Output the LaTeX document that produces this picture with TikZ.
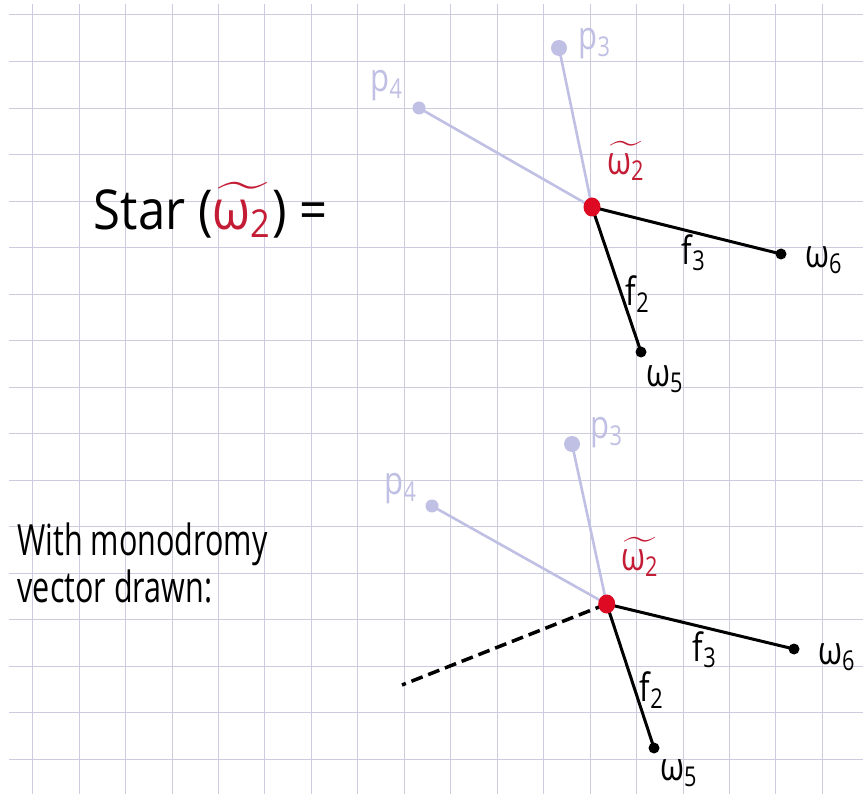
\documentclass[tikz,border=0pt]{standalone}
\usepackage{fontspec}
\setmainfont{Open Sans}
\usetikzlibrary{shapes.geometric}
\definecolor{gridc}{RGB}{204,204,222}
\definecolor{fadec}{RGB}{192,192,228}
\definecolor{labred}{RGB}{196,28,52}
\definecolor{dotred}{RGB}{222,10,36}
\begin{document}
\begin{tikzpicture}[x=1pt,y=-1pt,
  gridline/.style={draw=gridc, line width=1pt},
  fadedline/.style={draw=fadec, line width=2.6pt, line cap=round},
  edgeline/.style={draw=black, line width=3pt, line cap=round},
  dashline/.style={draw=black, line width=3.5pt, dash pattern=on 12pt off 6pt},
  bdot/.style={circle, fill=black, inner sep=0pt, minimum size=11pt},
  fdot/.style={circle, fill=fadec, inner sep=0pt, minimum size=16pt},
  fdotsmall/.style={circle, fill=fadec, inner sep=0pt, minimum size=13pt},
  rdot/.style={ellipse, fill=dotred, inner sep=0pt, minimum width=17pt, minimum height=19pt},
  lbl/.style={inner sep=0pt, xscale=3.1, yscale=3.9},
  flbl/.style={lbl, text=fadec},
  rlbl/.style={lbl, text=labred},
  bigtxt/.style={inner sep=0pt, xscale=4.9, yscale=5.5, anchor=west},
  midtxt/.style={inner sep=0pt, xscale=3.05, yscale=4.3, anchor=west, align=left,
    font=\fontsize{10}{10.9}\selectfont},
]
\fill[white] (0,0) rectangle (863,794);
\useasboundingbox (0,0) rectangle (863,794);
% grid
\foreach \k in {0,...,17} \draw[gridline] ({32.7+46.45*\k},4) -- ({32.7+46.45*\k},794);
\foreach \k in {0,...,16} \draw[gridline] (9,{15+46.52*\k}) -- (863,{15+46.52*\k});

% ---------- top star ----------
\coordinate (c1) at (592,207);
\node[fdot] (p3a) at (559,48) {};
\node[fdotsmall] (p4a) at (419,108) {};
\node[bdot] (w6a) at (781,254) {};
\node[bdot] (w5a) at (641,352) {};
\draw[fadedline] (c1) -- (p3a.center);
\draw[fadedline] (c1) -- (p4a.center);
\draw[edgeline] (c1) -- (w6a.center);
\draw[edgeline] (c1) -- (w5a.center);
\node[rdot] (ca) at (c1) {};
\node[flbl] (lp3a) at (595,44) {p\textsubscript{3}};
\node[flbl] (lp4a) at (387,86) {p\textsubscript{4}};
\node[rlbl] (lw2a) at (626,161) {$\widetilde{\hbox{ω\textsubscript{2}}}$};
\node[lbl] (lf3a) at (694,253) {f\textsubscript{3}};
\node[lbl] (lf2a) at (638,294) {f\textsubscript{2}};
\node[lbl] (lw6a) at (824,260) {ω\textsubscript{6}};
\node[lbl] (lw5a) at (665,379) {ω\textsubscript{5}};

\node[bigtxt] (star) at (93,210) {Star (\textcolor{labred}{$\widetilde{\hbox{ω\textsubscript{2}}}$}) =};

% ---------- bottom star ----------
\coordinate (c2) at (606.7,604);
\node[fdot] (p3b) at (572,444) {};
\node[fdotsmall] (p4b) at (432,506) {};
\node[bdot] (w6b) at (794,649) {};
\node[bdot] (w5b) at (654,748) {};
\coordinate (mv) at (402,685);
\draw[fadedline] (c2) -- (p3b.center);
\draw[fadedline] (c2) -- (p4b.center);
\draw[edgeline] (c2) -- (w6b.center);
\draw[edgeline] (c2) -- (w5b.center);
\draw[dashline] (c2) -- (mv);
\node[rdot] (cb) at (c2) {};
\node[flbl] (lp3b) at (607,433) {p\textsubscript{3}};
\node[flbl] (lp4b) at (401,489) {p\textsubscript{4}};
\node[rlbl] (lw2b) at (640,557) {$\widetilde{\hbox{ω\textsubscript{2}}}$};
\node[lbl] (lf3b) at (705,650) {f\textsubscript{3}};
\node[lbl] (lf2b) at (652,690) {f\textsubscript{2}};
\node[lbl] (lw6b) at (837,657) {ω\textsubscript{6}};
\node[lbl] (lw5b) at (679,773) {ω\textsubscript{5}};

\node[midtxt] (mono) at (17,563) {With monodromy\\vector drawn:};
\end{tikzpicture}
\end{document}
